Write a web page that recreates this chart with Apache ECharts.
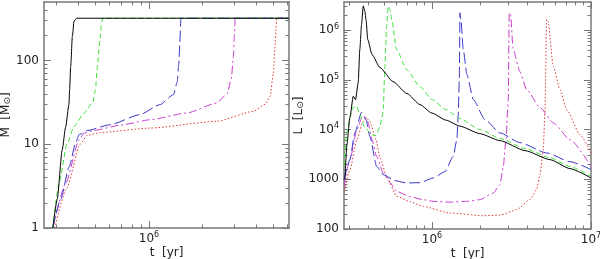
<!DOCTYPE html>
<html><head><meta charset="utf-8">
<script src="https://cdn.jsdelivr.net/npm/echarts@6/dist/echarts.min.js"></script>
<style>html,body{margin:0;padding:0;background:#fff}#c{width:600px;height:259px}</style>
</head><body><div id="c"></div>
<script>
// ---------- Left panel: M [Msun] vs t [yr] ----------
const tM_black = [2.88e5, 3.05e5, 3.25e5, 3.4e5, 3.55e5, 3.58e5, 3.63e5, 3.71e5, 3.79e5, 3.93e5, 6.1e6];
const M_black  = [1, 2.2, 8.5, 16, 30, 45, 85, 195, 295, 320, 320];
const tM_green = [2.88e5, 3.12e5, 3.47e5, 3.79e5, 4.32e5, 4.85e5, 5.0e5, 5.13e5, 5.3e5, 5.42e5, 5.5e5, 6.1e6];
const M_green  = [1, 3.4, 10.3, 16.3, 23.6, 32, 45, 85, 180, 290, 320, 320];
const tM_blue  = [2.88e5, 3.19e5, 3.56e5, 3.87e5, 4.04e5, 4.5e5, 6.04e5, 8.9e5, 1.15e6, 1.37e6, 1.44e6, 1.47e6, 1.49e6, 1.51e6, 6.1e6];
const M_blue   = [1, 2.2, 5.4, 10.3, 13.0, 14.6, 17.1, 22.6, 29.7, 39, 55, 90, 160, 320, 320];
const tM_magenta = [2.88e5, 3.4e5, 4.05e5, 4.32e5, 4.87e5, 7.0e5, 1.01e6, 1.63e6, 2.4e6, 2.75e6, 2.9e6, 2.98e6, 3.02e6, 3.05e6, 6.1e6];
const M_magenta  = [1, 3.4, 11.3, 13.6, 14.6, 17.0, 19.6, 23.6, 31, 40, 60, 110, 200, 320, 320];
const tM_red = [2.95e5, 3.45e5, 4.1e5, 4.5e5, 5.3e5, 1.01e6, 2.4e6, 3.86e6, 4.5e6, 4.79e6, 5.0e6, 5.1e6, 5.17e6, 5.22e6, 6.1e6];
const M_red  = [1, 3.0, 10.0, 12.8, 13.8, 15.6, 18.8, 24.7, 30, 37, 70, 140, 240, 320, 320];

// ---------- Right panel: L [Lsun] vs t [yr] ----------
const tL_black = [2.84e5, 2.92e5, 3.05e5, 3.2e5, 3.31e5, 3.44e5, 3.52e5, 3.61e5, 3.7e5, 3.79e5, 3.85e5, 3.95e5, 4.2e5, 4.71e5, 5.69e5, 6.97e5, 8.41e5, 1e6, 1.225e6, 1.5e6, 2.0e6, 2.68e6, 3.85e6, 5.52e6, 7.38e6, 1e7];
const L_black  = [984, 4990, 17460, 46900, 40090, 88500, 4.08e5, 1.30e6, 3.1e6, 2.38e6, 1.644e6, 6.5e5, 3.24e5, 1.775e5, 9.27e4, 5.31e4, 3.19e4, 2.15e4, 1.553e4, 1.175e4, 8300, 6000, 3775, 2489, 1640, 1064];
const tL_green = [2.8e5, 2.91e5, 3.05e5, 3.18e5, 3.36e5, 3.52e5, 3.79e5, 4.18e5, 4.45e5, 4.71e5, 4.85e5, 4.94e5, 5.06e5, 5.19e5, 5.31e5, 5.45e5, 5.58e5, 6.0e5, 6.93e5, 8.41e5, 1e6, 1.225e6, 1.5e6, 2.0e6, 2.68e6, 3.85e6, 5.52e6, 7.38e6, 1e7];
const L_green  = [1884, 8590, 17460, 27750, 29460, 20050, 10960, 7925, 7570, 11640, 17460, 25300, 1.884e5, 1.205e6, 3.04e6, 2.61e6, 1.644e6, 4.08e5, 1.615e5, 7.35e4, 4.03e4, 2.53e4, 1.667e4, 1.002e4, 6640, 4140, 2730, 1800, 1146];
const tL_blue  = [2.8e5, 3.05e5, 3.28e5, 3.61e5, 3.85e5, 4.07e5, 4.49e5, 4.94e5, 5.85e5, 6.93e5, 8.41e5, 1.019e6, 1.208e6, 1.361e6, 1.435e6, 1.462e6, 1.486e6, 1.5e6, 1.521e6, 1.574e6, 1.66e6, 1.82e6, 2.153e6, 2.679e6, 3.573e6, 5.26e6, 7.38e6, 1e7];
const L_blue   = [984, 2489, 8710, 22280, 15890, 7328, 1824, 1242, 940, 844, 855, 1064, 1425, 2897, 6295, 18530, 1.016e5, 2.24e6, 1.644e6, 4.08e5, 1.282e5, 4.03e4, 15890, 8590, 5470, 3395, 2265, 1574];
const tL_magenta = [2.8e5, 3.05e5, 3.38e5, 3.63e5, 3.79e5, 3.95e5, 4.2e5, 4.49e5, 4.94e5, 5.45e5, 6.0e5, 7.28e5, 8.81e5, 1.019e6, 1.298e6, 1.652e6, 2.0e6, 2.43e6, 2.68e6, 2.81e6, 2.92e6, 3.02e6, 3.06e6, 3.12e6, 3.24e6, 3.57e6, 3.94e6, 4.78e6, 5.79e6, 7.38e6, 1e7];
const L_magenta  = [721, 2489, 1.0e4, 1.746e4, 1.853e4, 1.449e4, 6295, 2897, 1343, 857, 571, 448, 389, 360, 347, 360, 389, 531, 780, 1824, 6295, 4.03e4, 2.24e6, 2.07e6, 4.08e5, 1.472e5, 6.4e4, 2.775e4, 1.365e4, 6295, 1824];
const tL_red = [2.8e5, 3.05e5, 3.38e5, 3.68e5, 3.88e5, 4.07e5, 4.45e5, 4.71e5, 5.19e5, 6.0e5, 7.28e5, 8.81e5, 1.298e6, 2.1e6, 2.68e6, 3.41e6, 4.13e6, 4.55e6, 4.78e6, 5.01e6, 5.14e6, 5.26e6, 5.37e6, 5.79e6, 6.38e6, 7.03e6, 8.53e6, 1e7];
const L_red  = [531, 1563, 6295, 1.449e4, 1.72e4, 1.449e4, 6295, 2730, 1146, 454, 355, 285, 210, 185, 190, 245, 389, 619, 1242, 3955, 2.53e4, 1.644e6, 1.497e6, 1.884e5, 6.4e4, 2.53e4, 7925, 3397];

// ---------- Tick values ----------
const leftX_major = [1e6];
const leftX_minor = [3e5, 4e5, 5e5, 6e5, 7e5, 8e5, 9e5, 2e6, 3e6, 4e6, 5e6, 6e6];
const leftY_major = [1, 10, 100];
const leftY_minor = [2, 3, 4, 5, 6, 7, 8, 9, 20, 30, 40, 50, 60, 70, 80, 90, 200, 300, 400];
const rightX_major = [1e6, 1e7];
const rightX_minor = [3e5, 4e5, 5e5, 6e5, 7e5, 8e5, 9e5, 2e6, 3e6, 4e6, 5e6, 6e6, 7e6, 8e6, 9e6];
const rightY_major = [100, 1000, 1e4, 1e5, 1e6];
const rightY_minor = [200, 300, 400, 500, 600, 700, 800, 900, 2000, 3000, 4000, 5000, 6000, 7000, 8000, 9000,
  2e4, 3e4, 4e4, 5e4, 6e4, 7e4, 8e4, 9e4, 2e5, 3e5, 4e5, 5e5, 6e5, 7e5, 8e5, 9e5, 2e6, 3e6];

const FONT = 'DejaVu Sans';
const TXT = '#222';
const rich = {
  b: {fontSize: 12, fontFamily: FONT, color: TXT, lineHeight: 15},
  s: {fontSize: 8, fontFamily: FONT, color: TXT, verticalAlign: 'top', lineHeight: 9},
  u: {fontSize: 9, fontFamily: FONT, color: TXT, verticalAlign: 'bottom', lineHeight: 9}
};
function powFmt(v) {
  const e = Math.round(Math.log10(v));
  return '{b|10}{s|' + e + '}';
}
function plainFmt(v) { return '{b|' + Math.round(v) + '}'; }
function rightYFmt(v) { return v >= 1e4 ? powFmt(v) : plainFmt(v); }

function makeAxes(dim, grid, min, max, majors, minors, labels, fmt, name, nameGap) {
  const sides = dim === 'x' ? ['bottom', 'top'] : ['left', 'right'];
  const out = [];
  sides.forEach((pos, si) => {
    [majors, minors].forEach((vals, ti) => {
      const main = si === 0 && ti === 0;
      out.push({
        type: 'log', logBase: 10, gridIndex: grid, position: pos, min: min, max: max,
        axisLine: {show: ti === 0, onZero: false, lineStyle: {color: '#777', width: 1.5}},
        axisTick: {show: true, inside: true, length: ti === 0 ? 7 : 3.5, customValues: vals,
                   lineStyle: {color: '#777', width: 1}},
        axisLabel: main ? {show: true, customValues: labels, formatter: fmt, rich: rich, margin: dim === 'x' ? 3 : 5,
                           showMinLabel: true, showMaxLabel: true} : {show: false},
        splitLine: {show: false},
        minorTick: {show: false},
        name: main ? name : '',
        nameLocation: 'middle',
        nameGap: nameGap,
        nameMoveOverlap: false,
        nameTextStyle: {fontFamily: FONT, fontSize: 12, color: TXT, rich: rich}
      });
    });
  });
  return out;
}

function zip(a, b) { return a.map((v, i) => [v, b[i]]); }

const styles = {
  black:   {color: '#000000', type: 'solid'},
  green:   {color: '#3ee03e', type: [5, 3]},
  blue:    {color: '#3434c8', type: [11, 4]},
  magenta: {color: '#cc3ccc', type: [8, 3, 2, 3]},
  red:     {color: '#e03a3a', type: [1.5, 2]}
};

function mk(xi, yi, t, v, key) {
  return {
    type: 'line', xAxisIndex: xi, yAxisIndex: yi, data: zip(t, v), showSymbol: false, symbol: 'none',
    clip: true, smooth: 0.2, smoothMonotone: 'x',
    lineStyle: {color: styles[key].color, width: 1, type: styles[key].type}
  };
}

const xAxes = [].concat(
  makeAxes('x', 0, 2.57e5, 6.12e6, leftX_major, leftX_minor, leftX_major, powFmt, 't  [yr]', 19),
  makeAxes('x', 1, 2.8e5, 1e7, rightX_major, rightX_minor, rightX_major, powFmt, 't  [yr]', 19)
);
const yAxes = [].concat(
  makeAxes('y', 0, 1, 500, leftY_major, leftY_minor, leftY_major, plainFmt, 'M  [M{u|⊙}]', 32),
  makeAxes('y', 1, 100, 3.7e6, rightY_major, rightY_minor, rightY_major, rightYFmt, 'L  [L{u|⊙}]', 39)
);

const option = {
  animation: false,
  backgroundColor: '#fff',
  grid: [
    {left: 44, top: 2, width: 245, height: 226, outerBoundsMode: 'none', containLabel: false},
    {left: 344, top: 2, width: 247, height: 227, outerBoundsMode: 'none', containLabel: false}
  ],
  xAxis: xAxes,
  yAxis: yAxes,
  series: [
    mk(0, 0, tM_red, M_red, 'red'),
    mk(0, 0, tM_magenta, M_magenta, 'magenta'),
    mk(0, 0, tM_blue, M_blue, 'blue'),
    mk(0, 0, tM_green, M_green, 'green'),
    mk(0, 0, tM_black, M_black, 'black'),
    mk(4, 4, tL_red, L_red, 'red'),
    mk(4, 4, tL_magenta, L_magenta, 'magenta'),
    mk(4, 4, tL_blue, L_blue, 'blue'),
    mk(4, 4, tL_green, L_green, 'green'),
    mk(4, 4, tL_black, L_black, 'black')
  ]
};
const chart = echarts.init(document.getElementById('c'), null, {renderer: 'canvas'});
chart.setOption(option);
</script></body></html>
